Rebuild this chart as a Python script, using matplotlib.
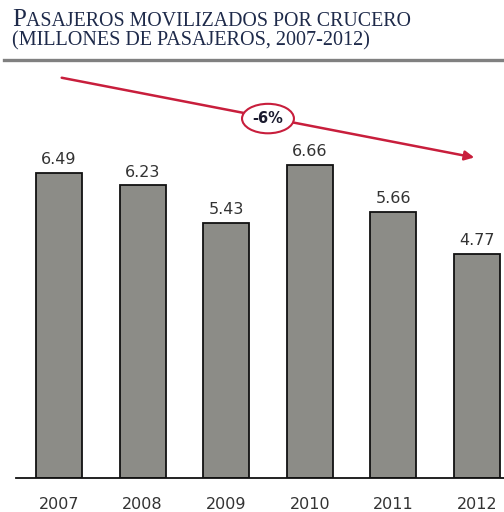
import matplotlib.pyplot as plt
from matplotlib.lines import Line2D

# datos
years = ['2007', '2008', '2009', '2010', '2011', '2012']
pasajeros = [6.49, 6.23, 5.43, 6.66, 5.66, 4.77]
cambio = '-6%'

W, H = 504, 512
fig = plt.figure(figsize=(W / 100, H / 100), dpi=100)

# ejes: de x=16 a 504 px, base en y=478 px
ax = fig.add_axes([16 / W, (H - 478) / H, 488 / W, 413 / H])
x = list(range(len(years)))
ax.bar(x, pasajeros, width=0.55, color='#8c8c87', edgecolor='#111111', linewidth=1.3, zorder=2)
for xi, v in zip(x, pasajeros):
    ax.text(xi, v + 0.12, f'{v:.2f}', ha='center', va='bottom', fontsize=11.5,
            color='#333333', family='DejaVu Sans')

ax.set_xlim(-0.514, 5.323)
ax.set_ylim(0, 8.79)
for s in ['left', 'right', 'top']:
    ax.spines[s].set_visible(False)
ax.spines['bottom'].set_linewidth(1.3)
ax.spines['bottom'].set_color('#111111')
ax.set_yticks([])
ax.set_xticks(x)
ax.set_xticklabels(years, fontsize=11.5, color='#333333')
ax.tick_params(axis='x', length=0, pad=14)

# flecha de tendencia
red = '#c81e3c'
ax.annotate('', xy=(5.0, 6.81), xytext=(0.0, 8.53),
            arrowprops=dict(arrowstyle='-|>', color=red, lw=1.8, mutation_scale=14),
            annotation_clip=False, zorder=3)
ax.text(2.5, 7.65, cambio, ha='center', va='center', fontsize=10.5, fontweight='bold',
        color='#1a1a2e', zorder=4,
        bbox=dict(boxstyle='ellipse,pad=0.2', fc='white', ec=red, lw=1.5))

# titulo (versalitas)
navy = '#1e2a4a'
serif = 'Liberation Serif'
y1 = 1 - 26.5 / H
t1 = fig.text(12 / W, y1, 'P', fontsize=18, family=serif, color=navy, va='baseline')
ax.annotate('ASAJEROS MOVILIZADOS POR CRUCERO', xy=(1, y1), xycoords=(t1, 'figure fraction'),
            fontsize=14.3, family=serif, color=navy, va='baseline', ha='left',
            annotation_clip=False)
fig.text(12 / W, 1 - 45.5 / H, '(MILLONES DE PASAJEROS, 2007-2012)', fontsize=14.5,
         family=serif, color=navy, va='baseline')

fig.add_artist(Line2D([4 / W, 1], [1 - 60 / H, 1 - 60 / H], color='#808080', lw=2.4,
                      transform=fig.transFigure))

fig.savefig('out.png', dpi=100)
